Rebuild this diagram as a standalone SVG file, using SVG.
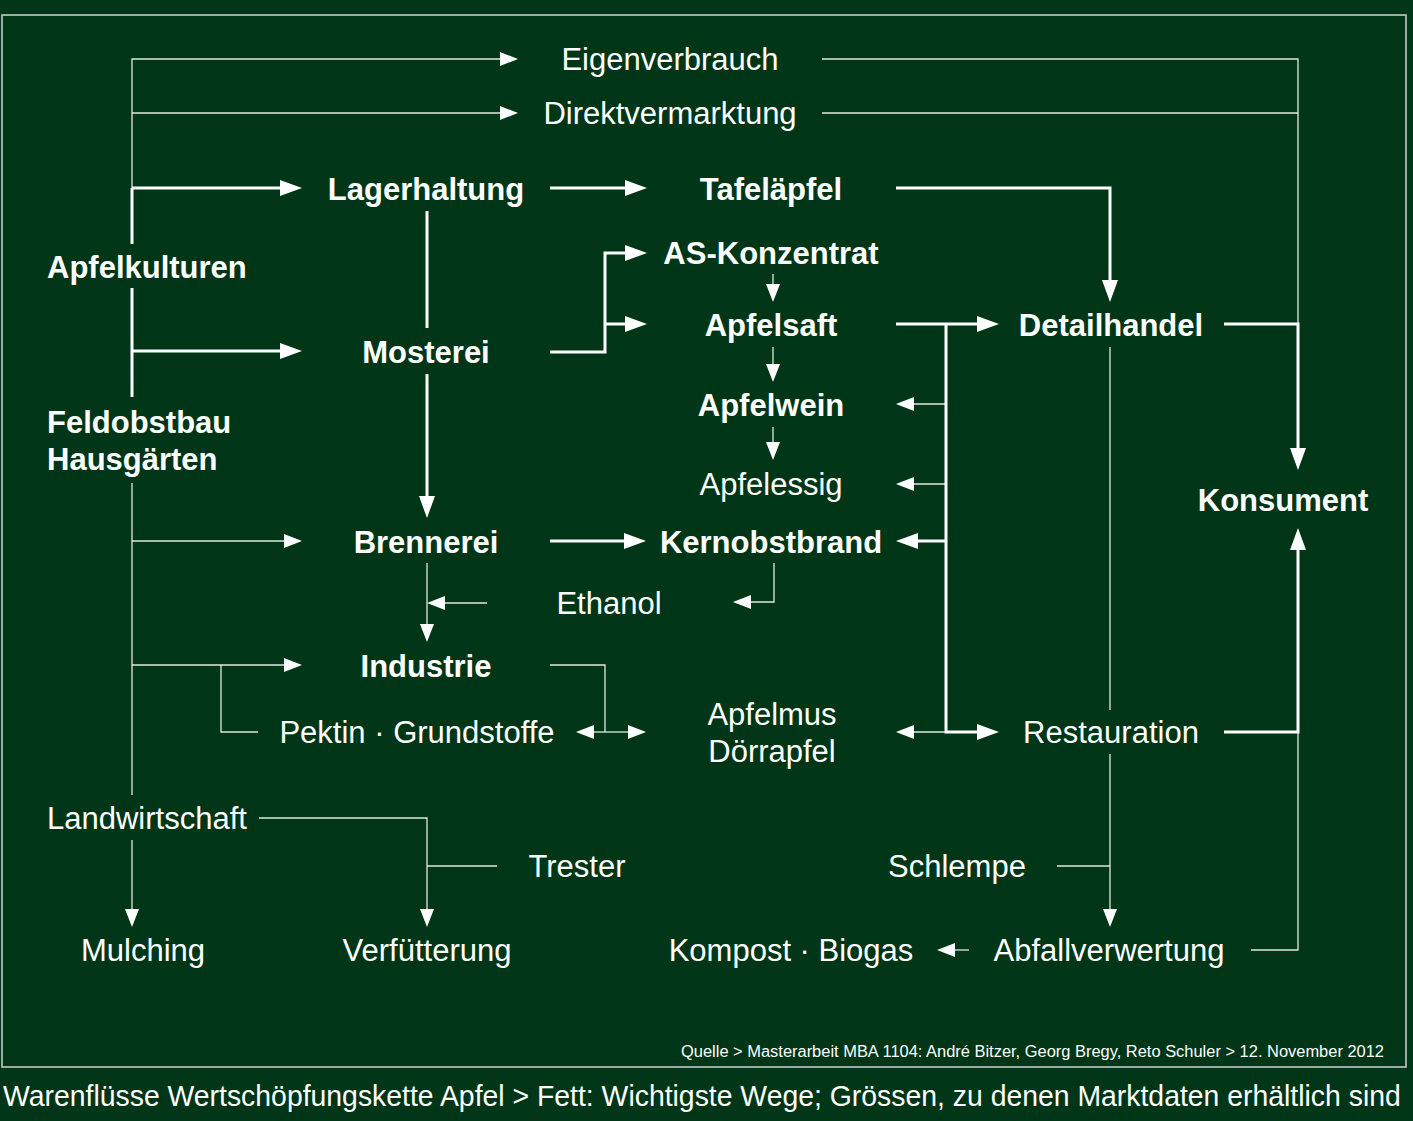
<svg xmlns="http://www.w3.org/2000/svg" width="1413" height="1121" viewBox="0 0 1413 1121">
<style>
.bg{fill:#003618}
.frame{fill:none;stroke:#c8c8c8;stroke-width:1.6}
text{fill:#fff;font-family:"Liberation Sans",Arial,Helvetica,sans-serif}
.r{font-size:31px}
.b{font-size:31px;font-weight:bold}
.c{text-anchor:middle}
.t{fill:none;stroke:#e2e8e2;stroke-width:1.3}
.T{fill:none;stroke:#fff;stroke-width:3}
.at{marker-end:url(#mt)}
.aT{marker-end:url(#mT)}
</style>
<defs>
<marker id="mt" markerUnits="userSpaceOnUse" markerWidth="18" markerHeight="14" viewBox="0 0 18 14" refX="8" refY="7" orient="auto"><path d="M0,0 L18,7 L0,14 z" fill="#fff"/></marker>
<marker id="mT" markerUnits="userSpaceOnUse" markerWidth="22" markerHeight="16" viewBox="0 0 22 16" refX="12" refY="8" orient="auto"><path d="M0,0 L22,8 L0,16 z" fill="#fff"/></marker>
</defs>
<rect class="bg" x="0" y="0" width="1413" height="1121"/>
<rect class="frame" x="2" y="15" width="1404" height="1052"/>

<g id="connectors">
<path class="t at" d="M132,188 V59 H508"/>
<path class="t at" d="M132,113 H508"/>
<path class="t" d="M822,59 H1298 V324"/>
<path class="t" d="M822,113 H1298"/>
<path class="t" d="M132,483 V795"/>
<path class="t at" d="M132,541 H292"/>
<path class="t at" d="M132,665 H292"/>
<path class="t" d="M221,665 V732 H258"/>
<path class="t at" d="M132,840 V917"/>
<path class="t at" d="M259,818 H427 V917"/>
<path class="t" d="M497,866 H427"/>
<path class="t at" d="M427,563 V632"/>
<path class="t at" d="M487,603 H437"/>
<path class="t at" d="M774,563 V602 H743"/>
<path class="t" d="M550,665 H605 V732"/>
<path class="t at" d="M605,732 H586"/>
<path class="t at" d="M605,732 H636"/>
<path class="t at" d="M773,274 V292"/>
<path class="t at" d="M773,347 V372"/>
<path class="t at" d="M773,427 V450"/>
<path class="t at" d="M946,404 H906"/>
<path class="t at" d="M946,484 H906"/>
<path class="t at" d="M946,732 H906"/>
<path class="t" d="M1110,347 V710"/>
<path class="t at" d="M1110,754 V917"/>
<path class="t" d="M1057,866 H1110"/>
<path class="t at" d="M969,950 H947"/>
<path class="t" d="M1251,950 H1298 V732"/>

<path class="T" d="M132,188 V244"/>
<path class="T" d="M132,288 V397"/>
<path class="T aT" d="M132,188 H292"/>
<path class="T aT" d="M132,351 H292"/>
<path class="T aT" d="M550,188 H637"/>
<path class="T" d="M427,211 V328"/>
<path class="T aT" d="M427,374 V508"/>
<path class="T aT" d="M550,352 H605 V253 H637"/>
<path class="T aT" d="M605,324 H637"/>
<path class="T aT" d="M896,188 H1110 V292"/>
<path class="T aT" d="M896,324 H989"/>
<path class="T aT" d="M946,324 V732 H989"/>
<path class="T aT" d="M946,541 H906"/>
<path class="T aT" d="M550,541 H636"/>
<path class="T aT" d="M1224,324 H1298 V460"/>
<path class="T aT" d="M1224,732 H1298 V538"/>
</g>

<g id="eigenverbrauch"><text class="r c" x="670" y="70">Eigenverbrauch</text></g>
<g id="direktvermarktung"><text class="r c" x="670" y="124">Direktvermarktung</text></g>
<g id="lagerhaltung"><text class="b c" x="426" y="200">Lagerhaltung</text></g>
<g id="tafelaepfel"><text class="b c" x="771" y="200">Tafeläpfel</text></g>
<g id="apfelkulturen"><text class="b" x="47" y="278">Apfelkulturen</text></g>
<g id="as-konzentrat"><text class="b c" x="771" y="264">AS-Konzentrat</text></g>
<g id="mosterei"><text class="b c" x="426" y="363">Mosterei</text></g>
<g id="apfelsaft"><text class="b c" x="771" y="336">Apfelsaft</text></g>
<g id="detailhandel"><text class="b c" x="1111" y="336">Detailhandel</text></g>
<g id="apfelwein"><text class="b c" x="771" y="416">Apfelwein</text></g>
<g id="feldobstbau"><text class="b" x="47" y="433">Feldobstbau</text><text class="b" x="47" y="470">Hausgärten</text></g>
<g id="apfelessig"><text class="r c" x="771" y="495">Apfelessig</text></g>
<g id="konsument"><text class="b c" x="1283" y="511">Konsument</text></g>
<g id="brennerei"><text class="b c" x="426" y="553">Brennerei</text></g>
<g id="kernobstbrand"><text class="b c" x="771" y="553">Kernobstbrand</text></g>
<g id="ethanol"><text class="r c" x="609" y="614">Ethanol</text></g>
<g id="industrie"><text class="b c" x="426" y="677">Industrie</text></g>
<g id="pektin"><text class="r c" x="417" y="743">Pektin · Grundstoffe</text></g>
<g id="apfelmus"><text class="r c" x="772" y="725">Apfelmus</text><text class="r c" x="772" y="762">Dörrapfel</text></g>
<g id="restauration"><text class="r c" x="1111" y="743">Restauration</text></g>
<g id="landwirtschaft"><text class="r" x="47" y="829">Landwirtschaft</text></g>
<g id="trester"><text class="r c" x="577" y="877">Trester</text></g>
<g id="schlempe"><text class="r c" x="957" y="877">Schlempe</text></g>
<g id="mulching"><text class="r c" x="143" y="961">Mulching</text></g>
<g id="verfuetterung"><text class="r c" x="427" y="961">Verfütterung</text></g>
<g id="kompost"><text class="r c" x="791" y="961">Kompost · Biogas</text></g>
<g id="abfallverwertung"><text class="r c" x="1109" y="961">Abfallverwertung</text></g>

<text x="681" y="1057" font-size="16" textLength="703" lengthAdjust="spacingAndGlyphs">Quelle &gt; Masterarbeit MBA 1104: André Bitzer, Georg Bregy, Reto Schuler &gt; 12. November 2012</text>
<text transform="translate(3,1106) scale(0.93,1)" x="0" y="0" font-size="29" textLength="1503" lengthAdjust="spacingAndGlyphs">Warenflüsse Wertschöpfungskette Apfel &gt; Fett: Wichtigste Wege; Grössen, zu denen Marktdaten erhältlich sind</text>
</svg>
